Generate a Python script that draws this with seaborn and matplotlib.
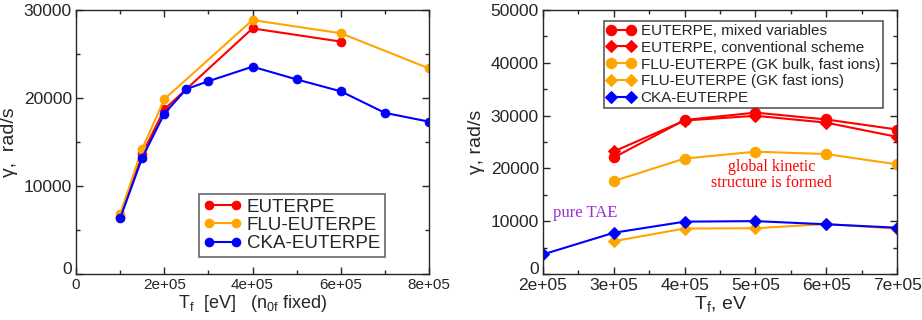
import pandas as pd
import matplotlib
matplotlib.use("Agg")
import matplotlib.pyplot as plt
import matplotlib.transforms as mtransforms
from matplotlib.ticker import MultipleLocator
import seaborn as sns

# left panel: growth rate vs fast ion temperature (n0f fixed)
left_tf_red = [1e5, 1.5e5, 2e5, 4e5, 6e5]
left_euterpe = [6500, 13600, 18700, 27900, 26400]
left_tf_orange = [1e5, 1.5e5, 2e5, 4e5, 6e5, 8e5]
left_flu = [6800, 14200, 19850, 28850, 27350, 23350]
left_tf_blue = [1e5, 1.5e5, 2e5, 2.5e5, 3e5, 4e5, 5e5, 6e5, 7e5, 8e5]
left_cka = [6300, 13200, 18200, 21000, 21900, 23550, 22100, 20750, 18300, 17300]

# right panel
right_tf = [3e5, 4e5, 5e5, 6e5, 7e5]
right_mixed = [22050, 29150, 30550, 29250, 27350]
right_conv = [23200, 29050, 29950, 28650, 25950]
right_flu_bulk = [17600, 21850, 23150, 22700, 20750]
right_flu_fast = [6200, 8600, 8650, 9450, 8550]
right_tf_cka = [2e5, 3e5, 4e5, 5e5, 6e5, 7e5]
right_cka = [3700, 7800, 9900, 10000, 9400, 8750]

left_xticks = ["0", "2e+05", "4e+05", "6e+05", "8e+05"]
right_xticks = ["2e+05", "3e+05", "4e+05", "5e+05", "6e+05", "7e+05"]

RED, ORANGE, BLUE = "#ff0000", "#ffa500", "#0000ff"

sns.set_style("ticks")
plt.rcParams["font.family"] = ["Liberation Sans", "DejaVu Sans"]
plt.rcParams["xtick.direction"] = "in"
plt.rcParams["ytick.direction"] = "in"
plt.rcParams["xtick.top"] = True
plt.rcParams["ytick.right"] = True


def series(ax, x, y, color, marker, ms, label):
    df = pd.DataFrame({"x": x, "y": y})
    sns.lineplot(data=df, x="x", y="y", ax=ax, color=color, marker=marker,
                 markersize=ms, markeredgecolor=color, linewidth=1.5,
                 label=label, sort=False)


def style_axes(ax):
    for s in ax.spines.values():
        s.set_linewidth(1.0)
    ax.tick_params(which="major", length=5, width=1, labelsize=12.5, pad=3)
    ax.tick_params(which="minor", length=3, width=1)


fig = plt.figure(figsize=(9.22, 3.2), dpi=100)
ax1 = fig.add_axes([0.0824, 0.144, 0.383, 0.825])
ax2 = fig.add_axes([0.589, 0.144, 0.384, 0.825])

series(ax1, left_tf_red, left_euterpe, RED, "o", 6.2, "EUTERPE")
series(ax1, left_tf_orange, left_flu, ORANGE, "o", 6.2, "FLU-EUTERPE")
series(ax1, left_tf_blue, left_cka, BLUE, "o", 6.2, "CKA-EUTERPE")
ax1.set_xlim(0, 8e5)
ax1.set_ylim(0, 30000)
ax1.set_xticks([0, 2e5, 4e5, 6e5, 8e5])
ax1.set_xticklabels(left_xticks)
ax1.xaxis.set_minor_locator(MultipleLocator(1e5))
ax1.set_yticks([0, 10000, 20000, 30000])
ax1.set_yticklabels(["0", "10000", "20000", "30000"])
ax1.yaxis.set_minor_locator(MultipleLocator(5000))
style_axes(ax1)
ax1.tick_params(axis="x", labelsize=11)
ax1.set_xlabel(r"T$_\mathregular{f}$  [eV]   (n$_\mathregular{0f}$ fixed)", fontsize=13, labelpad=1)
ax1.set_ylabel("γ,  rad/s", fontsize=14, labelpad=4)
leg1 = ax1.legend(loc="lower right", bbox_to_anchor=(0.875, 0.065), fontsize=13.5,
                  frameon=True, fancybox=False, edgecolor="#404040",
                  numpoints=2, handlelength=2.0, handletextpad=0.3, borderpad=0.25,
                  labelspacing=0.05, borderaxespad=0)
leg1.get_frame().set_linewidth(1.2)

series(ax2, right_tf, right_mixed, RED, "o", 7.5, "EUTERPE, mixed variables")
series(ax2, right_tf, right_conv, RED, "D", 6, "EUTERPE, conventional scheme")
series(ax2, right_tf, right_flu_bulk, ORANGE, "o", 7.5, "FLU-EUTERPE (GK bulk, fast ions)")
series(ax2, right_tf, right_flu_fast, ORANGE, "D", 6, "FLU-EUTERPE (GK fast ions)")
series(ax2, right_tf_cka, right_cka, BLUE, "D", 6, "CKA-EUTERPE")
ax2.set_xlim(2e5, 7e5)
ax2.set_ylim(0, 50000)
ax2.set_xticks([2e5, 3e5, 4e5, 5e5, 6e5, 7e5])
ax2.set_xticklabels(right_xticks)
ax2.xaxis.set_minor_locator(MultipleLocator(5e4))
ax2.set_yticks([0, 10000, 20000, 30000, 40000, 50000])
ax2.set_yticklabels(["0", "10000", "20000", "30000", "40000", "50000"])
ax2.yaxis.set_minor_locator(MultipleLocator(5000))
style_axes(ax2)
ax2.set_xlabel(r"T$_\mathregular{f}$, eV", fontsize=14, labelpad=1)
ax2.set_ylabel("γ, rad/s", fontsize=14, labelpad=4)
leg2 = ax2.legend(loc="upper right", bbox_to_anchor=(0.96, 0.958), fontsize=11,
                  frameon=True, fancybox=False, edgecolor="#303030",
                  numpoints=2, handlelength=1.9, handletextpad=0.3, borderpad=0.2,
                  labelspacing=0.18, borderaxespad=0)
leg2.get_frame().set_linewidth(1.2)

# lift the bottom "0" tick labels a little so they clear the x tick labels
shift = mtransforms.ScaledTranslation(0, 4 / 72, fig.dpi_scale_trans)
for ax in (ax1, ax2):
    lab = ax.get_yticklabels()[0]
    lab.set_transform(lab.get_transform() + shift)

ax2.text(5.23e5, 18700, "global kinetic\nstructure is formed", color=RED,
         family="Liberation Serif", fontsize=11.5, ha="center", va="center",
         linespacing=0.95)
ax2.text(2.14e5, 11500, "pure TAE", color="#9b30d0", family="Liberation Serif",
         fontsize=12, ha="left", va="center")

plt.savefig("out.png", dpi=100)
plt.close()
